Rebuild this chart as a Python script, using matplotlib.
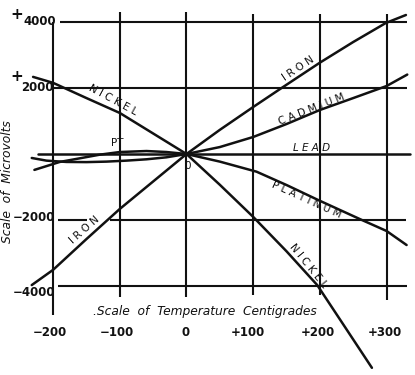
import matplotlib
matplotlib.use("Agg")
import matplotlib.pyplot as plt

# ---- data (temperature in deg C, e.m.f. in microvolts, relative to lead) ----
temp_ticks = [-200, -100, 0, 100, 200, 300]
temp_labels = ["\u2212200", "\u2212100", "0", "+100", "+200", "+300"]
emf_ticks = [4000, 2000, 0, -2000, -4000]

iron_T = [-232, -200, -150, -100, -50, 0, 50, 100, 143, 200, 250, 299, 329]
iron_E = [-3960, -3500, -2570, -1660, -830, 0, 730, 1420, 2000, 2760, 3384, 3960, 4200]

nickel_T = [-230, -200, -150, -100, -50, 0, 50, 100, 150, 196, 240, 278]
nickel_E = [2330, 2150, 1690, 1240, 620, 0, -930, -1900, -2940, -3960, -5300, -6460]

cadmium_T = [-232, -210, -180, -150, -120, -90, -60, -30, 0, 50, 100, 150, 200, 250, 300, 331]
cadmium_E = [-120, -200, -240, -245, -230, -200, -160, -100, 0, 210, 514, 906, 1330, 1690, 2054, 2400]

platinum_T = [-228, -190, -160, -130, -100, -60, -30, 0, 50, 105, 150, 199, 263, 300, 330]
platinum_E = [-480, -240, -130, -20, 60, 90, 60, 0, -230, -534, -937, -1405, -1994, -2326, -2750]

lead_T = [-223, 335]
lead_E = [0, 0]

# ---- figure ----
fig = plt.figure(figsize=(4.15, 3.75), dpi=100)
ax = fig.add_axes([0, 0, 1, 1])
ax.set_xlim(-279.6, 342.6)
ax.set_ylim(-6677, 4653)
ax.axis("off")

ink = "#111111"
glw = 1.5
clw = 1.8

# vertical grid lines (different extents as in the engraving)
v_ext = {-200: (4000, -4860), -100: (4290, -4320), 0: (4290, -4320),
         100: (4230, -4260), 200: (4230, -4260), 300: (4230, -4410)}
for t in temp_ticks:
    top, bot = v_ext[t]
    ax.plot([t, t], [bot, top], color=ink, lw=glw, solid_capstyle="butt")

# horizontal grid lines
h_ext = {4000: [(-190, 331)], 2000: [(-201, 331)], -2000: [(-193, -149), (-115, 329)],
         -4000: [(-193, 331)]}
for e in emf_ticks:
    if e == 0:
        continue
    for a, b in h_ext[e]:
        ax.plot([a, b], [e, e], color=ink, lw=glw, solid_capstyle="butt")

# curves
for T, E in [(lead_T, lead_E), (iron_T, iron_E), (nickel_T, nickel_E),
             (cadmium_T, cadmium_E), (platinum_T, platinum_E)]:
    ax.plot(T, E, color=ink, lw=clw, solid_capstyle="round", solid_joinstyle="round")

# y tick labels
tick_font = dict(fontsize=8.5, fontweight="bold", color=ink, family="DejaVu Sans")
plus_font = dict(fontsize=11, fontweight="bold", color=ink, ha="center", va="center")
ax.text(-254, 4230, "+", **plus_font)
ax.text(-220, 4000, "4000", ha="center", va="center", **tick_font)
ax.text(-254, 2356, "+", **plus_font)
ax.text(-223, 2010, "2000", ha="center", va="center", **tick_font)
ax.text(-197, -1930, "\u22122000", ha="right", va="center", **tick_font)
ax.text(-197, -4170, "\u22124000", ha="right", va="center", **tick_font)

# x tick labels
x_pos = [-205, -104, -2, 92, 197, 297]
for xp, lab in zip(x_pos, temp_labels):
    ax.text(xp, -5380, lab, ha="center", va="center", **tick_font)

# axis titles
ax.text(-268, -820, "Scale  of  Microvolts", rotation=90, ha="center", va="center",
        fontsize=8.8, style="italic", color=ink)
ax.text(27.7, -4773, ".Scale  of  Temperature  Centigrades", ha="center", va="center",
        fontsize=8.8, style="italic", color=ink)

# curve labels
lab_font = dict(fontsize=7.5, color=ink, ha="center", va="center", rotation_mode="anchor")
ax.text(167.6, 2590, "I R O N", rotation=33.7, **lab_font)
ax.text(187.7, 1353, "C A D M I U M", rotation=21.5, **lab_font)
ax.text(187.7, 172, "L E A D", rotation=0, style="italic", **lab_font)
ax.text(180.2, -1390, "P L A T I N U M", rotation=-24.4, **lab_font)
ax.text(182.6, -3369, "N I C K E L", rotation=-50.9, **lab_font)
ax.text(-109.7, 1631, "N I C K E L", rotation=-28.4, **lab_font)
ax.text(-152.2, -2296, "I R O N", rotation=41.3, **lab_font)
ax.text(-104, 332, "PT", **lab_font)
ax.text(2, -363, "0", **lab_font)

fig.savefig("out.png", dpi=100, facecolor="white")
